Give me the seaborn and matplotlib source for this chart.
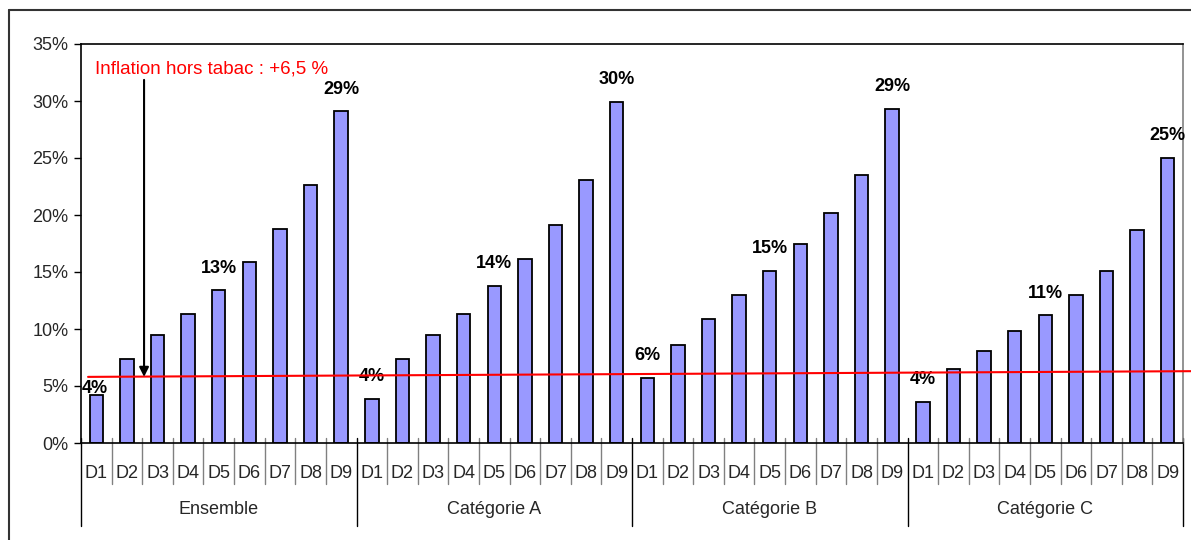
import matplotlib
matplotlib.use("Agg")
import matplotlib.pyplot as plt
from matplotlib.lines import Line2D
import seaborn as sns
import pandas as pd

groups = ["Ensemble", "Catégorie A", "Catégorie B", "Catégorie C"]
deciles = ["D1", "D2", "D3", "D4", "D5", "D6", "D7", "D8", "D9"]
ensemble = [4.2, 7.4, 9.5, 11.3, 13.4, 15.9, 18.8, 22.6, 29.1]
cat_a = [3.9, 7.4, 9.5, 11.3, 13.8, 16.1, 19.1, 23.1, 29.9]
cat_b = [5.7, 8.6, 10.9, 13.0, 15.1, 17.5, 20.2, 23.5, 29.3]
cat_c = [3.6, 6.5, 8.1, 9.8, 11.2, 13.0, 15.1, 18.7, 25.0]
labelled_deciles = ["D1", "D5", "D9"]
inflation_line = [5.8, 6.3]          # drawn line, left and right ends
inflation_text = "Inflation hors tabac : +6,5 %"
y_ticks = [0, 5, 10, 15, 20, 25, 30, 35]

series = [ensemble, cat_a, cat_b, cat_c]
rows = []
for g, vals in zip(groups, series):
    for d, v in zip(deciles, vals):
        rows.append({"group": g, "decile": d, "slot": f"{g}|{d}", "value": v})
df = pd.DataFrame(rows)
order = list(df["slot"])

sns.set_style("white")
plt.rcParams["font.family"] = ["Liberation Sans", "DejaVu Sans"]

W, H = 1191, 540
fig = plt.figure(figsize=(W / 100, H / 100), dpi=100)
L, R, T, B = 81, 1183, 44, 443
ax = fig.add_axes([L / W, (H - B) / H, (R - L) / W, (B - T) / H])

sns.barplot(data=df, x="slot", y="value", order=order, color="#9999FF",
            edgecolor="black", linewidth=1.3, width=0.44, saturation=1, ax=ax)

n = len(order)
ax.set_xlim(-0.5, n - 0.5)
ax.set_ylim(0, 35)
ax.set_yticks(y_ticks)
ax.set_yticklabels([f"{t}%" for t in y_ticks], fontsize=13)
ax.tick_params(axis="y", direction="out", length=5, width=1, color="black", pad=4, left=True)
ax.set_xticks(range(n))
ax.set_xticklabels(list(df["decile"]), fontsize=13)
ax.tick_params(axis="x", length=0, pad=16)
ax.set_xlabel("")
ax.set_ylabel("")
ax.grid(False)

for side in ["left", "bottom", "top"]:
    ax.spines[side].set_color("black")
    ax.spines[side].set_linewidth(1.2)
ax.spines["right"].set_color("#808080")
ax.spines["right"].set_linewidth(1.2)

trans = ax.get_xaxis_transform()
plot_h = B - T
for i in range(n + 1):
    x = i - 0.5
    if i % 9 == 0:
        ax.plot([x, x], [5 / plot_h, -83 / plot_h], transform=trans, color="black",
                lw=1, clip_on=False)
    else:
        ax.plot([x, x], [5 / plot_h, -41 / plot_h], transform=trans, color="#808080",
                lw=1, clip_on=False)

for gi, g in enumerate(groups):
    ax.text(gi * 9 + 4, -67 / plot_h, g, transform=trans, ha="center", va="center",
            fontsize=13)

# value labels
for i, row in df.iterrows():
    if row["decile"] in labelled_deciles:
        off = 16
        if row["group"] == "Ensemble" and row["decile"] == "D1":
            off = 5
        ax.annotate(f"{row['value']:.0f}%", (i, row["value"]), xytext=(-1 if off == 5 else 0, off),
                    textcoords="offset points", ha="center", va="center",
                    fontsize=13, fontweight="bold", color="black")

# inflation line
ax.plot([-0.27, 35.77], inflation_line, color="#FF0000", lw=1.5, clip_on=False, zorder=5)
ax.annotate("", xy=(1.56, inflation_line[0]), xytext=(1.56, 31.85),
            arrowprops=dict(arrowstyle="-|>", color="black", lw=1.5,
                            mutation_scale=14, shrinkA=0, shrinkB=0), zorder=6)
ax.text(-0.04, 32.8, inflation_text, color="#FF0000", fontsize=13.5, ha="left", va="center")

# outer frame
fig.add_artist(Line2D([9 / W, 9 / W], [0, 1 - 10 / H], color="#333333", lw=1.5))
fig.add_artist(Line2D([9 / W, 1], [1 - 10 / H, 1 - 10 / H], color="#333333", lw=1.5))

fig.savefig("out.png", dpi=100, facecolor="white")
